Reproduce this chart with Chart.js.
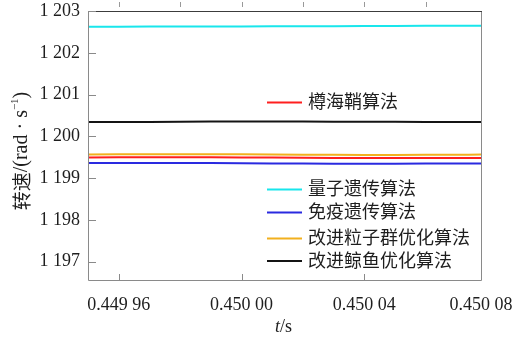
<!DOCTYPE html>
<html>
<head>
<meta charset="utf-8">
<script src="https://cdn.jsdelivr.net/npm/chart.js@4.4.1/dist/chart.umd.min.js"></script>
<style>
  html, body { margin: 0; padding: 0; background: #ffffff; }
  #wrap { width: 518px; height: 338px; position: relative; }
</style>
</head>
<body>
<div id="wrap"><canvas id="c" width="518" height="338"></canvas></div>
<script>
// Sample times (s)
const times = [0.44995, 0.44997, 0.44999, 0.45001, 0.45003, 0.45005, 0.45007, 0.450078];

// Rotor speed for each algorithm (rad/s)
const salpSwarm   = [1199.495, 1199.497, 1199.498, 1199.490, 1199.482, 1199.478, 1199.480, 1199.480];
const quantumGA   = [1202.625, 1202.626, 1202.628, 1202.632, 1202.637, 1202.642, 1202.647, 1202.649];
const immuneGA    = [1199.360, 1199.362, 1199.360, 1199.350, 1199.345, 1199.345, 1199.350, 1199.352];
const improvedPSO = [1199.565, 1199.570, 1199.572, 1199.565, 1199.556, 1199.555, 1199.560, 1199.562];
const improvedWOA = [1200.340, 1200.345, 1200.352, 1200.355, 1200.350, 1200.346, 1200.345, 1200.345];

const seriesNames = ['樽海鞘算法', '量子遗传算法', '免疫遗传算法', '改进粒子群优化算法', '改进鲸鱼优化算法'];
const seriesColors = ['#ff1f1f', '#19e6ec', '#2a2ae0', '#f2b01e', '#141414'];

// Axis ticks
const xTickValues = [0.44996, 0.45000, 0.45004, 0.450078];
const xTickLabels = ['0.449 96', '0.450 00', '0.450 04', '0.450 08'];
const xMinorTicks = [0.44996, 0.44998, 0.45000, 0.45002, 0.45004, 0.45006];
const yTickValues = [1197, 1198, 1199, 1200, 1201, 1202, 1203];
const yTickLabels = ['1 197', '1 198', '1 199', '1 200', '1 201', '1 202', '1 203'];

const serif = "'Liberation Serif', 'Times New Roman', Tinos, 'DejaVu Serif', serif";
const cjk = "'Noto Sans CJK SC', 'Noto Sans', sans-serif";
const textColor = '#1e1e1e';

const allSeries = [salpSwarm, quantumGA, immuneGA, improvedPSO, improvedWOA];
const datasets = allSeries.map((vals, i) => ({
  label: seriesNames[i],
  data: times.map((t, k) => ({ x: t, y: vals[k] })),
  borderColor: seriesColors[i],
  backgroundColor: seriesColors[i],
  borderWidth: 2,
  pointRadius: 0,
  tension: 0.3,
  fill: false
}));

// Frame, tick marks, axis titles and the two in-plot legend blocks
const decorations = {
  id: 'decorations',
  afterDraw(chart) {
    const ctx = chart.ctx;
    const a = chart.chartArea;
    const xs = chart.scales.x, ys = chart.scales.y;
    ctx.save();

    // frame
    ctx.lineWidth = 1;
    ctx.strokeStyle = '#8a8a8a';
    ctx.beginPath();
    ctx.moveTo(a.left + 0.5, a.top);
    ctx.lineTo(a.left + 0.5, a.bottom + 0.5);
    ctx.lineTo(a.right + 0.5, a.bottom + 0.5);
    ctx.lineTo(a.right + 0.5, a.top);
    ctx.stroke();
    ctx.strokeStyle = '#3c3c3c';
    ctx.beginPath();
    ctx.moveTo(a.left, a.top + 0.5);
    ctx.lineTo(a.right + 1, a.top + 0.5);
    ctx.stroke();

    // y ticks (inward)
    ctx.strokeStyle = '#8a8a8a';
    ctx.beginPath();
    yTickValues.forEach(v => {
      const py = Math.round(ys.getPixelForValue(v)) + 0.5;
      ctx.moveTo(a.left, py);
      ctx.lineTo(a.left + 8, py);
    });
    ctx.stroke();

    // bottom x ticks (inward)
    ctx.beginPath();
    xTickValues.slice(0, 3).forEach(v => {
      const px = Math.round(xs.getPixelForValue(v)) + 0.5;
      ctx.moveTo(px, a.bottom);
      ctx.lineTo(px, a.bottom - 6);
    });
    ctx.stroke();

    // top x ticks (outward)
    ctx.strokeStyle = '#999999';
    ctx.beginPath();
    xMinorTicks.forEach(v => {
      const px = Math.round(xs.getPixelForValue(v)) + 0.5;
      ctx.moveTo(px, a.top - 9);
      ctx.lineTo(px, a.top - 4);
    });
    ctx.stroke();

    // x title: italic t / s
    ctx.fillStyle = textColor;
    ctx.textBaseline = 'middle';
    ctx.font = 'italic 18px ' + serif;
    const wt = ctx.measureText('t').width;
    ctx.font = '18px ' + serif;
    const ws = ctx.measureText('/s').width;
    const cx = (a.left + a.right) / 2 - 1;
    let x0 = cx - (wt + ws) / 2;
    ctx.textAlign = 'left';
    ctx.font = 'italic 18px ' + serif;
    ctx.fillText('t', x0, 327);
    ctx.font = '18px ' + serif;
    ctx.fillText('/s', x0 + wt, 327);

    // y title: 转速/(rad · s^-1)
    ctx.save();
    ctx.translate(22, 151);
    ctx.rotate(-Math.PI / 2);
    const parts = [
      { t: '转速', f: '19px ' + cjk, dy: 0 },
      { t: '/(rad · s', f: '20px ' + serif, dy: 0 },
      { t: '−1', f: '11px ' + serif, dy: -7 },
      { t: ')', f: '20px ' + serif, dy: 0 }
    ];
    let total = 0;
    parts.forEach(p => { ctx.font = p.f; p.w = ctx.measureText(p.t).width; total += p.w; });
    let px = -total / 2;
    parts.forEach(p => {
      ctx.font = p.f;
      ctx.fillText(p.t, px, p.dy);
      px += p.w;
    });
    ctx.restore();

    // legends
    const lx0 = 267, lx1 = 302, tx = 308;
    const rows = [
      { i: 0, y: 102.5 },
      { i: 1, y: 189.5 },
      { i: 2, y: 212.5 },
      { i: 3, y: 238.5 },
      { i: 4, y: 261 }
    ];
    ctx.font = '18px ' + cjk;
    ctx.textAlign = 'left';
    ctx.textBaseline = 'middle';
    rows.forEach(r => {
      ctx.strokeStyle = seriesColors[r.i];
      ctx.lineWidth = 2;
      ctx.beginPath();
      ctx.moveTo(lx0, r.y);
      ctx.lineTo(lx1, r.y);
      ctx.stroke();
      ctx.fillStyle = textColor;
      ctx.fillText(seriesNames[r.i], tx, r.y - 1);
    });

    ctx.restore();
  }
};

new Chart(document.getElementById('c'), {
  type: 'line',
  data: { datasets },
  options: {
    responsive: false,
    animation: false,
    devicePixelRatio: 1,
    layout: { padding: { top: 11, right: 37, left: 0, bottom: 0 } },
    plugins: { legend: { display: false }, tooltip: { enabled: false } },
    scales: {
      x: {
        type: 'linear',
        min: 0.44995,
        max: 0.450078,
        afterBuildTicks(scale) { scale.ticks = xTickValues.map(v => ({ value: v })); },
        afterFit(scale) {
          scale.height = 58;
          scale.paddingLeft = 0;
          scale.paddingRight = 0;
        },
        grid: { display: false, drawTicks: false },
        border: { display: false },
        ticks: {
          autoSkip: false,
          maxRotation: 0,
          padding: 14,
          color: textColor,
          font: { family: serif, size: 18 },
          callback(value, index) { return xTickLabels[index]; }
        }
      },
      y: {
        type: 'linear',
        min: 1196.56,
        max: 1203,
        afterBuildTicks(scale) { scale.ticks = yTickValues.map(v => ({ value: v })); },
        afterFit(scale) {
          scale.width = 88;
          scale.paddingTop = 0;
          scale.paddingBottom = 0;
        },
        grid: { display: false, drawTicks: false },
        border: { display: false },
        ticks: {
          padding: 8,
          color: textColor,
          font: { family: serif, size: 18 },
          callback(value, index) { return yTickLabels[index]; }
        }
      }
    }
  },
  plugins: [decorations]
});
</script>
</body>
</html>
